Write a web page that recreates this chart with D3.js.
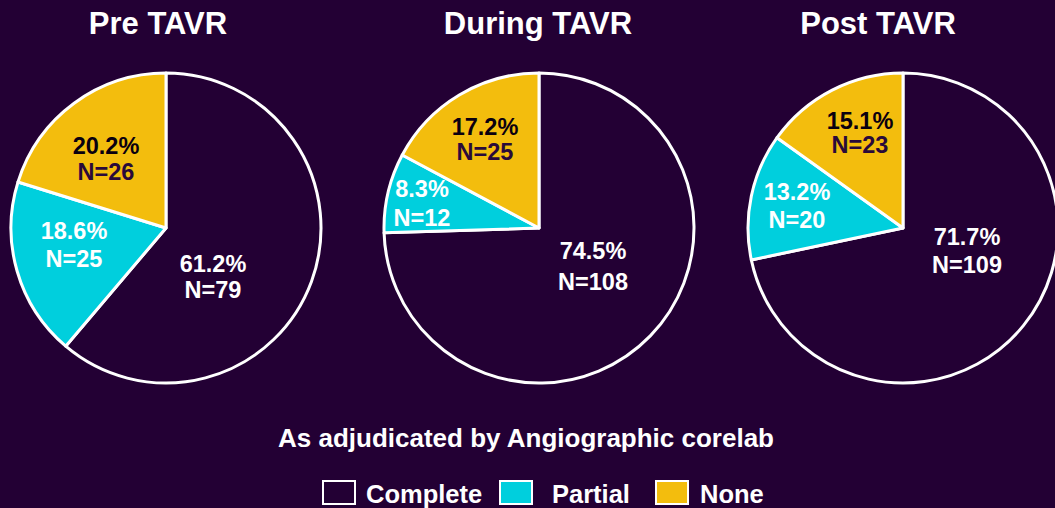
<!DOCTYPE html>
<html lang="en">
<head>
<meta charset="UTF-8">
<title>TAVR pies</title>
<script src="https://d3js.org/d3.v7.min.js"></script>
<style>
  html, body { margin: 0; padding: 0; background: #230034; }
  svg { display: block; font-family: "Liberation Sans", Arial, sans-serif; font-weight: bold; }
</style>
</head>
<body>
<svg id="chart" width="1055" height="508"></svg>
<script>
// chart data
const panels = ["Pre TAVR", "During TAVR", "Post TAVR"];
const categories = ["Complete", "Partial", "None"];
const pctPre = [61.2, 18.6, 20.2];
const pctDuring = [74.5, 8.3, 17.2];
const pctPost = [71.7, 13.2, 15.1];
const nPre = [79, 25, 26];
const nDuring = [108, 12, 25];
const nPost = [109, 20, 23];
const caption = "As adjudicated by Angiographic corelab";

const pcts = [pctPre, pctDuring, pctPost];
const counts = [nPre, nDuring, nPost];

// layout (not data)
const bg = "#230034";
const colors = { Complete: bg, Partial: "#00cfdd", None: "#f3bd0d" };
const centers = [[166, 228], [539, 228], [903, 228]];
const titleX = [158, 538, 878];
const radius = 155;
// label placement per pie, per category: [dx, dy of first baseline, line gap]
const labelOffsets = [
  [[47, 44, 26], [-92, 11, 28], [-60, -74, 26]],
  [[54, 31, 31], [-117, -31, 29], [-54, -93, 25]],
  [[64, 17, 28], [-106, -28, 28], [-43, -99, 24]]
];

const svg = d3.select("#chart");

svg.append("rect").attr("width", 1055).attr("height", 508).attr("fill", bg);

const pie = d3.pie().sort(null).value(d => d.value);
const arc = d3.arc().innerRadius(0).outerRadius(radius);

panels.forEach((title, i) => {
  const [cx, cy] = centers[i];
  const rows = categories.map((c, j) => ({ cat: c, value: pcts[i][j], n: counts[i][j], idx: j }));

  svg.append("text")
    .attr("x", titleX[i])
    .attr("y", 34)
    .attr("text-anchor", "middle")
    .attr("fill", "#fff")
    .attr("font-size", 31)
    .text(title);

  const g = svg.append("g").attr("transform", `translate(${cx},${cy})`);

  g.selectAll("path")
    .data(pie(rows))
    .join("path")
    .attr("d", arc)
    .attr("fill", d => colors[d.data.cat])
    .attr("stroke", "#fff")
    .attr("stroke-width", 3)
    .attr("stroke-linejoin", "round");

  rows.forEach(r => {
    const [dx, dy, gap] = labelOffsets[i][r.idx];
    const dark = r.cat === "None";
    const t = g.append("text")
      .attr("text-anchor", "middle")
      .attr("font-size", 23.5);
    t.append("tspan")
      .attr("x", dx).attr("y", dy)
      .attr("fill", dark ? "#0a0010" : "#fff")
      .text(r.value.toFixed(1) + "%");
    t.append("tspan")
      .attr("x", dx).attr("y", dy + gap)
      .attr("fill", dark ? "#2a0a3a" : "#fff")
      .text("N=" + r.n);
  });
});

// caption
svg.append("text")
  .attr("x", 526)
  .attr("y", 447)
  .attr("text-anchor", "middle")
  .attr("fill", "#fff")
  .attr("font-size", 26)
  .text(caption);

// legend
const legendBoxX = [322, 499, 655];
const legendTextX = [366, 552, 700];
const legend = svg.append("g");
categories.forEach((c, j) => {
  legend.append("rect")
    .attr("x", legendBoxX[j] + 1)
    .attr("y", 481)
    .attr("width", 32)
    .attr("height", 23)
    .attr("fill", colors[c])
    .attr("stroke", "#fff")
    .attr("stroke-width", 2);
  legend.append("text")
    .attr("x", legendTextX[j])
    .attr("y", 503)
    .attr("fill", "#fff")
    .attr("font-size", 25.5)
    .text(c);
});
</script>
</body>
</html>
